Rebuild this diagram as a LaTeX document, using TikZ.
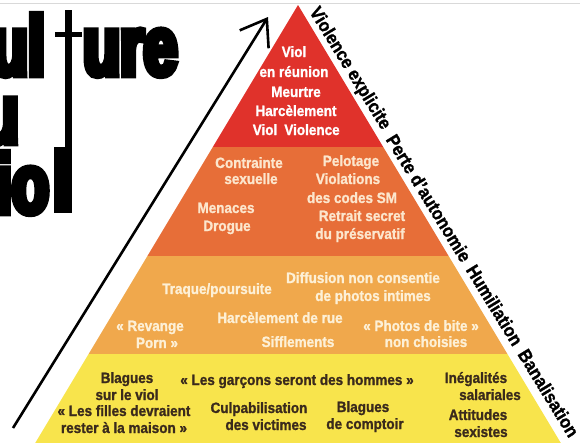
\documentclass[tikz,border=0pt]{standalone}
\usepackage{fontspec}
\setmainfont{Liberation Sans}[FakeStretch=0.9,BoldFeatures={FakeBold=1.2}]
\newfontfamily\titlefont{Liberation Sans}[FakeStretch=0.72,BoldFeatures={FakeBold=8}]
\usetikzlibrary{arrows.meta,calc}
\definecolor{bandred}{RGB}{224,50,43}
\definecolor{bandorange}{RGB}{231,110,56}
\definecolor{bandlight}{RGB}{240,168,76}
\definecolor{bandyellow}{RGB}{248,228,76}
\definecolor{creamtxt}{RGB}{252,230,205}
\definecolor{palecream}{RGB}{253,240,214}
\definecolor{darktxt}{RGB}{58,42,28}
\tikzset{
  lbl/.style={font=\bfseries\fontsize{15}{18}\selectfont, inner sep=0pt, anchor=base},
  wlbl/.style={lbl, text=white},
  olbl/.style={lbl, text=creamtxt},
  llbl/.style={lbl, text=palecream},
  ylbl/.style={lbl, text=darktxt},
  edgelbl/.style={font=\bfseries\fontsize{18.5}{22}\selectfont, inner sep=0pt, anchor=west, rotate=-58.5},
  titletxt/.style={font=\titlefont\bfseries\fontsize{84}{90}\selectfont, inner sep=0pt},
}
\begin{document}
\begin{tikzpicture}[x=1pt,y=-1pt]
\useasboundingbox (0,0) rectangle (580,442);
\clip (0,0) rectangle (580,442);
\fill[white] (0,0) rectangle (580,442);
\draw[black!15, line width=1pt] (0,3.5) -- (580,3.5);

% pyramid bands
\begin{scope}
  \clip (298,5) -- (565,450) -- (31,450) -- cycle;
  \fill[bandred] (0,0) rectangle (580,147);
  \fill[bandorange] (0,147) rectangle (580,256);
  \fill[bandlight] (0,256) rectangle (580,354);
  \fill[bandyellow] (0,354) rectangle (580,450);
\end{scope}

% title
\node[titletxt, anchor=base east] (t1) at (45,75) {ul};
\node[titletxt, anchor=base west] (t2) at (83,75) {ure};
\node[titletxt, anchor=base east] (t3) at (19,143) {u};
\node[titletxt, anchor=base east] (t4) at (49,213) {io};
\fill[black] (65,10) rectangle (72,213);
\fill[black] (55,32) rectangle (82,37);
\fill[black] (54,147) rectangle (70,213);

% arrow
\coordinate (a0) at (13,428);
\coordinate (a1) at (268,17);
\draw[line width=2.6pt, -{Straight Barb[length=24pt,width=34pt,line width=2.6pt]}] (a0) -- (a1);

% red band
\node[wlbl] (r1) at (294,57) {Viol};
\node[wlbl] (r2) at (294,77) {en réunion};
\node[wlbl] (r3) at (296,97) {Meurtre};
\node[wlbl] (r4) at (296,116) {Harcèlement};
\node[wlbl] (r5) at (265,135) {Viol};
\node[wlbl] (r6) at (312,135) {Violence};

% orange band
\node[olbl] (o1) at (249,168) {Contrainte};
\node[olbl] (o2) at (251,184) {sexuelle};
\node[olbl] (o3) at (226,213) {Menaces};
\node[olbl] (o4) at (227,231) {Drogue};
\node[olbl] (o5) at (351,166) {Pelotage};
\node[olbl] (o6) at (348,184) {Violations};
\node[olbl] (o7) at (352,203) {des codes SM};
\node[olbl] (o8) at (362,221) {Retrait secret};
\node[olbl] (o9) at (360,239) {du préservatif};

% light orange band
\node[llbl] (l1) at (217,294) {Traque/poursuite};
\node[llbl] (l2) at (363,283) {Diffusion non consentie};
\node[llbl] (l3) at (373,301) {de photos intimes};
\node[llbl] (l4) at (280,323) {Harcèlement de rue};
\node[llbl] (l5) at (150,331) {«~Revange};
\node[llbl] (l6) at (157,348) {Porn~»};
\node[llbl] (l7) at (298,347) {Sifflements};
\node[llbl] (l8) at (421,331) {«~Photos de bite~»};
\node[llbl] (l9) at (426,347) {non choisies};

% yellow band
\node[ylbl] (y1) at (127,383) {Blagues};
\node[ylbl] (y2) at (127,400) {sur le viol};
\node[ylbl] (y3) at (124,416) {«~Les filles devraient};
\node[ylbl] (y4) at (124,433) {rester à la maison~»};
\node[ylbl] (y5) at (297,385) {«~Les garçons seront des hommes~»};
\node[ylbl] (y6) at (259,413) {Culpabilisation};
\node[ylbl] (y7) at (266,430) {des victimes};
\node[ylbl] (y8) at (363,412) {Blagues};
\node[ylbl] (y9) at (365,429) {de comptoir};
\node[ylbl] (y10) at (476,383) {Inégalités};
\node[ylbl] (y11) at (490,400) {salariales};
\node[ylbl] (y12) at (478,420) {Attitudes};
\node[ylbl] (y13) at (481,437) {sexistes};

% edge labels (along a line parallel to the right edge)
\coordinate (s0) at (313,9);
\node[edgelbl] (e1) at (s0) {Violence explicite};
\node[edgelbl] (e2) at ($(s0)+(0.523*149,0.852*149)$) {Perte d’autonomie};
\node[edgelbl] (e3) at ($(s0)+(0.523*302,0.852*302)$) {Humiliation};
\node[edgelbl] (e4) at ($(s0)+(0.523*401,0.852*401)$) {Banalisation};
\end{tikzpicture}
\end{document}
